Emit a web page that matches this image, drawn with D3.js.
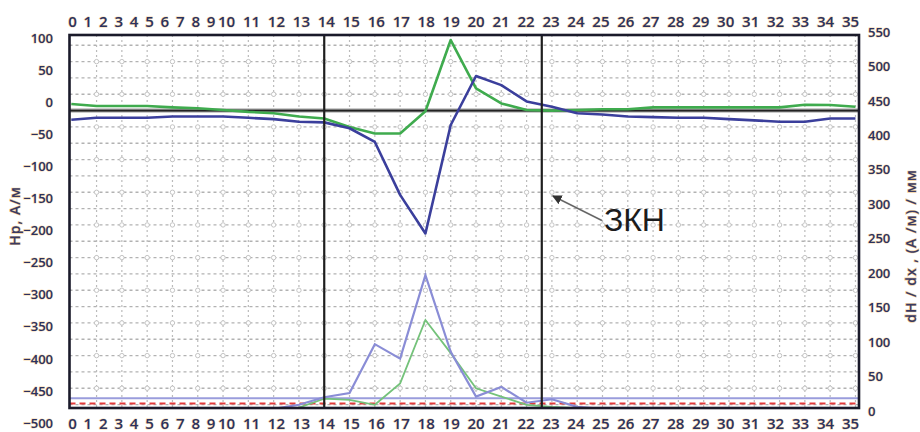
<!DOCTYPE html>
<html>
<head>
  <meta charset="utf-8">
  <script src="https://d3js.org/d3.v7.min.js"></script>
  <style>
    body { margin: 0; background: #fff; }
    svg { display: block; }
    .tick text { font-family: "Open Sans", sans-serif; font-weight: 600; fill: #2a3160;
                 stroke: #f0b050; stroke-width: 1.1; stroke-opacity: 0.5; paint-order: stroke; }
    .ttl { font-family: "Open Sans", sans-serif; font-weight: 600; font-size: 14px; fill: #3a3a62;
           stroke: #e9a845; stroke-width: 1.2; stroke-opacity: 0.55; paint-order: stroke; letter-spacing: 1px; }
  </style>
</head>
<body>
<script>
  "use strict";

  // x positions (measurement points) and tick labels
  var points = d3.range(4, 36);
  var xLabels = d3.range(0, 36);

  // H, A/m (left axis)
  var hGreen = [10, 7, 7, 7, 5, 3.5, 1, -2, -4, -9, -12, -25, -35, -35, -1, 108,
                34, 11, 1, 0, 1, 2, 2, 5, 5, 5, 5, 5, 5, 9, 8.5, 6];
  var hBlue  = [-14, -11, -11, -11, -9, -9, -9, -11, -13, -17, -18, -27, -48, -129, -188, -22,
                53, 39, 14, 6, -4, -6, -9, -10, -11, -11, -13, -15, -17, -17, -12, -12];

  // dH/dx, (A/m)/mm (right axis)
  var dGreen = [4, 4, 4, 4, 4, 4, 4, 4, 4, 5, 18, 16, 9, 40, 132, 84,
                33, 21, 9, 6, 4, 4, 4, 4, 4, 4, 4, 4, 4, 4, 4, 4];
  var dBlue  = [3, 3, 3, 3, 3, 3, 3, 3, 3, 9, 20, 26, 97, 76, 197, 86,
                21, 35, 12, 17, 6, 3, 3, 3, 3, 3, 3, 3, 3, 3, 3, 3];
  var dLimitBlue = 18.5;
  var dLimitRed = 11;

  var leftTicks = d3.range(100, -501, -50);
  var rightTicks = d3.range(0, 551, 50);
  var zoneBounds = [14, 22.6];
  var zoneLabel = "ЗКН";
  var zoneArrowTip = [23, -130];

  var W = 920, H = 432;
  var plot = { left: 69.5, right: 859, top: 35, bottom: 408 };

  var svg = d3.select("body").append("svg")
      .attr("width", W).attr("height", H);

  var x = d3.scaleLinear().domain([3.93, 35.14]).range([plot.left, plot.right]);
  // printed labels are squeezed at the left end of the scan
  var xLab = d3.scaleLinear().domain([0, 10, 35]).range([72, 226, 850]);
  var yL = d3.scaleLinear().domain([0, -450]).range([110.6, 404.6]);
  var yLAxis = d3.scaleLinear().domain([100, -500]).range([38, 423]);
  var yR = d3.scaleLinear().domain([0, 550]).range([411, 32]);

  svg.append("clipPath").attr("id", "clip")
    .append("rect")
      .attr("x", plot.left).attr("y", plot.top)
      .attr("width", plot.right - plot.left).attr("height", plot.bottom - plot.top);

  // grid
  var grid = svg.append("g");
  var hGrid = d3.range(100, -451, -25);
  var vGrid = d3.range(5, 36);
  grid.selectAll(".hg").data(hGrid).enter().append("line")
      .attr("x1", plot.left).attr("x2", plot.right)
      .attr("y1", function (d) { return yL(d); }).attr("y2", function (d) { return yL(d); })
      .attr("stroke", "#b2b2b2").attr("stroke-width", 1.3).attr("stroke-dasharray", "3,3");
  grid.selectAll(".vg").data(vGrid).enter().append("line")
      .attr("y1", plot.top).attr("y2", plot.bottom)
      .attr("x1", function (d) { return x(d); }).attr("x2", function (d) { return x(d); })
      .attr("stroke", "#bbb").attr("stroke-width", 1.2).attr("stroke-dasharray", "2,3");
  var marks = [];
  hGrid.filter(function (d) { return d % 50 !== 0; }).forEach(function (h) {
    vGrid.forEach(function (v) { marks.push([v, h]); });
  });
  grid.selectAll("circle").data(marks).enter().append("circle")
      .attr("cx", function (d) { return x(d[0]); })
      .attr("cy", function (d) { return yL(d[1]); })
      .attr("r", 2.2).attr("fill", "#fff").attr("stroke", "#c4c4c4").attr("stroke-width", 1);

  var lines = svg.append("g").attr("clip-path", "url(#clip)");

  // zero line
  lines.append("line")
      .attr("x1", plot.left).attr("x2", plot.right)
      .attr("y1", yL(0)).attr("y2", yL(0))
      .attr("stroke", "#9a9a9a").attr("stroke-width", 4);
  lines.append("line")
      .attr("x1", plot.left).attr("x2", plot.right)
      .attr("y1", yL(0)).attr("y2", yL(0))
      .attr("stroke", "#222").attr("stroke-width", 1.6);

  // lower (gradient) series
  lines.append("line")
      .attr("x1", plot.left).attr("x2", plot.right)
      .attr("y1", yR(dLimitBlue)).attr("y2", yR(dLimitBlue))
      .attr("stroke", "#9a9ddc").attr("stroke-width", 1.8);
  lines.append("line")
      .attr("x1", plot.left).attr("x2", plot.right)
      .attr("y1", yR(dLimitRed)).attr("y2", yR(dLimitRed))
      .attr("stroke", "#e23b3b").attr("stroke-width", 2).attr("stroke-dasharray", "6,4");

  var lineR = d3.line()
      .x(function (d, i) { return x(points[i]); })
      .y(function (d) { return yR(d); });
  lines.append("path").datum(dGreen)
      .attr("d", lineR).attr("fill", "none")
      .attr("stroke", "#74c27a").attr("stroke-width", 1.8);
  lines.append("path").datum(dBlue)
      .attr("d", lineR).attr("fill", "none")
      .attr("stroke", "#8a8dd6").attr("stroke-width", 2.2);

  // H series
  var lineL = d3.line()
      .x(function (d, i) { return x(points[i]); })
      .y(function (d) { return yL(d); });
  lines.append("path").datum(hGreen)
      .attr("d", lineL).attr("fill", "none")
      .attr("stroke", "#3fab4e").attr("stroke-width", 2.6).attr("stroke-linejoin", "round");
  lines.append("path").datum(hBlue)
      .attr("d", lineL).attr("fill", "none")
      .attr("stroke", "#3b3f9c").attr("stroke-width", 2.6).attr("stroke-linejoin", "round");

  // zone boundaries
  svg.selectAll(".zone").data(zoneBounds).enter().append("line")
      .attr("x1", function (d) { return x(d); }).attr("x2", function (d) { return x(d); })
      .attr("y1", plot.top).attr("y2", plot.bottom)
      .attr("stroke", "#1e1e1e").attr("stroke-width", 2.2);

  // frame
  svg.append("rect")
      .attr("x", plot.left).attr("y", plot.top)
      .attr("width", plot.right - plot.left).attr("height", plot.bottom - plot.top)
      .attr("fill", "none").attr("stroke", "#1a1a2a").attr("stroke-width", 2.6);

  // axes
  var axTop = svg.append("g").attr("transform", "translate(0," + plot.top + ")")
      .call(d3.axisTop(xLab).tickValues(xLabels).tickSize(0).tickPadding(8));
  var axBot = svg.append("g").attr("transform", "translate(0," + plot.bottom + ")")
      .call(d3.axisBottom(xLab).tickValues(xLabels).tickSize(0).tickPadding(10));
  [axTop, axBot].forEach(function (g) {
    g.select(".domain").remove();
    g.selectAll("text").style("font-size", "15px");
  });

  var axL = svg.append("g").attr("transform", "translate(56,0)")
      .call(d3.axisLeft(yLAxis).tickValues(leftTicks).tickSize(0).tickPadding(3));
  var axR = svg.append("g").attr("transform", "translate(865,0)")
      .call(d3.axisRight(yR).tickValues(rightTicks).tickSize(0).tickPadding(3));
  [axL, axR].forEach(function (g) {
    g.select(".domain").remove();
    g.selectAll("text").style("font-size", "13px");
  });

  svg.append("text").attr("class", "ttl")
      .attr("transform", "translate(20,216) rotate(-90)")
      .attr("text-anchor", "middle").text("Нр, А/м");
  svg.append("text").attr("class", "ttl")
      .attr("transform", "translate(916,246) rotate(-90)")
      .attr("text-anchor", "middle").text("dH / dx , (А /м) / мм");

  // annotation
  svg.append("defs").append("marker")
      .attr("id", "head").attr("viewBox", "0 0 10 10")
      .attr("refX", 9).attr("refY", 5)
      .attr("markerWidth", 6).attr("markerHeight", 6)
      .attr("orient", "auto")
    .append("path").attr("d", "M0,0L10,5L0,10Z").attr("fill", "#333");
  var tipX = x(zoneArrowTip[0]), tipY = yL(zoneArrowTip[1]);
  svg.append("line")
      .attr("x1", tipX + 50).attr("y1", tipY + 25)
      .attr("x2", tipX + 1).attr("y2", tipY + 0.5)
      .attr("stroke", "#666").attr("stroke-width", 1.6)
      .attr("marker-end", "url(#head)");
  svg.append("text")
      .attr("x", tipX + 52).attr("y", tipY + 35)
      .style("font-family", "Liberation Sans, Arial, sans-serif")
      .style("font-size", "32px").attr("fill", "#1c1c1c")
      .text(zoneLabel);
</script>
</body>
</html>
